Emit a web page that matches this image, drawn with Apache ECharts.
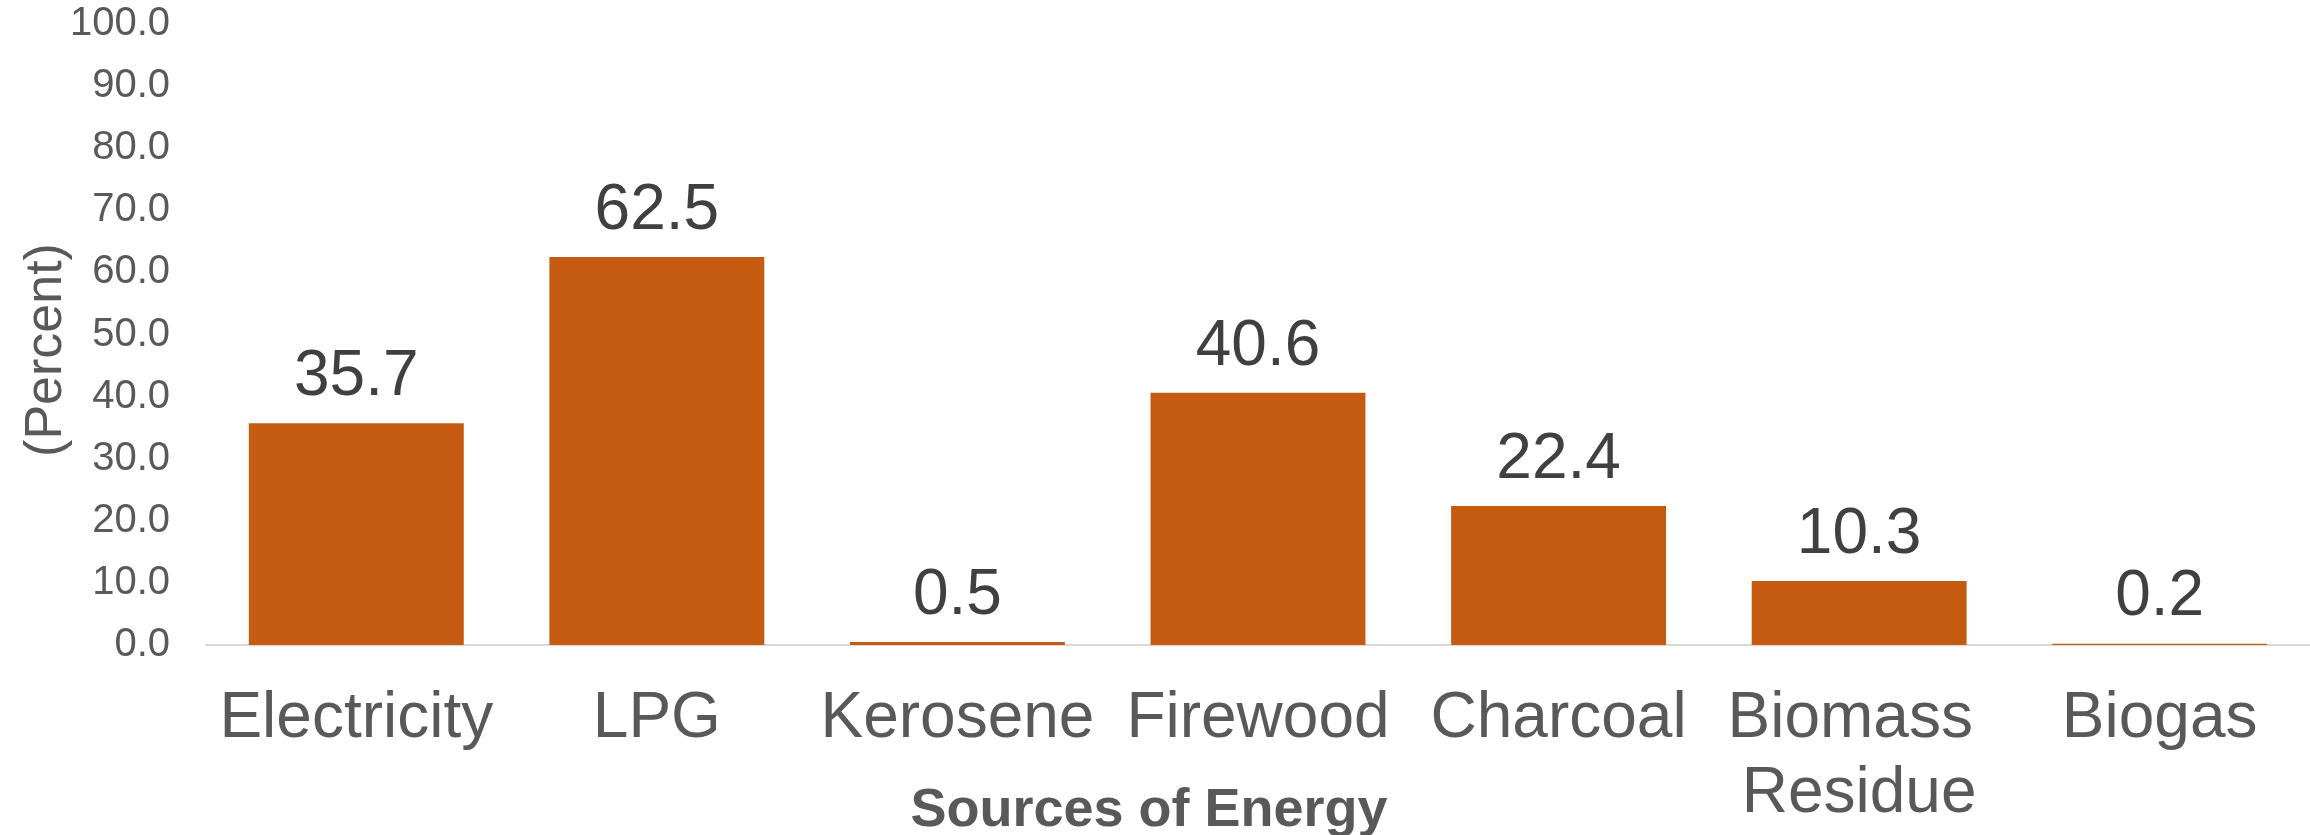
<!DOCTYPE html>
<html>
<head>
<meta charset="utf-8">
<title>Sources of Energy</title>
<script src="https://cdn.jsdelivr.net/npm/echarts@6/dist/echarts.min.js"></script>
<style>
  html, body { margin: 0; padding: 0; background: #ffffff; }
  #chart { width: 2310px; height: 835px; }
</style>
</head>
<body>
<div id="chart"></div>
<script>
// Share of households using each source of energy (percent)
const categories = ['Electricity', 'LPG', 'Kerosene', 'Firewood', 'Charcoal', 'Biomass Residue', 'Biogas'];
const percentValues = [35.7, 62.5, 0.5, 40.6, 22.4, 10.3, 0.2];

const yAxisMin = 0;
const yAxisMax = 100;
const yAxisStep = 10;

const FONT = "'Liberation Sans', Arial, Helvetica, sans-serif";

const chart = echarts.init(document.getElementById('chart'), null, { renderer: 'canvas' });

chart.setOption({
  backgroundColor: '#ffffff',
  animation: false,
  grid: {
    left: 206, right: 0, top: 24, bottom: 190,
    containLabel: false,
    outerBoundsMode: 'none'
  },
  xAxis: {
    type: 'category',
    data: categories,
    name: 'Sources of Energy',
    nameLocation: 'middle',
    nameGap: 139,
    nameMoveOverlap: false,
    nameTextStyle: {
      fontFamily: FONT, fontSize: 54, fontWeight: 'bold', color: '#595959',
      padding: [0, 218, 0, 0]
    },
    axisLine: { show: true, lineStyle: { color: '#D9D9D9', width: 2 } },
    axisTick: { show: false },
    axisLabel: {
      interval: 0,
      margin: 37,
      fontFamily: FONT, fontSize: 64, color: '#595959',
      lineHeight: 75,
      width: 290,
      overflow: 'break'
    },
    splitLine: { show: false }
  },
  yAxis: {
    type: 'value',
    min: yAxisMin,
    max: yAxisMax,
    interval: yAxisStep,
    name: '(Percent)',
    nameLocation: 'middle',
    nameGap: 133,
    nameMoveOverlap: false,
    nameRotate: 90,
    nameTextStyle: {
      fontFamily: FONT, fontSize: 52, color: '#595959',
      padding: [0, 31, 0, 0]
    },
    axisLine: { show: false },
    axisTick: { show: false },
    splitLine: { show: false },
    axisLabel: {
      margin: 36,
      fontFamily: FONT, fontSize: 40, color: '#595959',
      formatter: v => v.toFixed(1)
    }
  },
  series: [{
    type: 'bar',
    data: percentValues,
    barCategoryGap: '28.5%',
    itemStyle: { color: '#C55A11' },
    label: {
      show: true,
      position: 'top',
      distance: 14,
      fontFamily: FONT, fontSize: 64, color: '#404040',
      formatter: p => p.value.toFixed(1)
    }
  }]
});
</script>
</body>
</html>
